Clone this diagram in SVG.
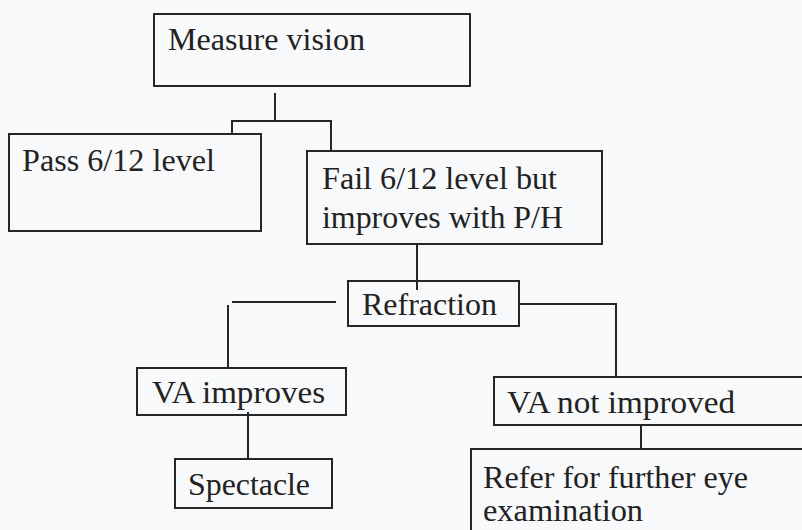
<svg xmlns="http://www.w3.org/2000/svg" width="802" height="530" viewBox="0 0 802 530">
<style>
.box{fill:none;stroke:#262626;stroke-width:2}
.ln{fill:none;stroke:#262626;stroke-width:2}
.t{font-family:"Liberation Serif","Times New Roman",serif;font-size:32px;fill:#222}
</style>
<rect x="0" y="0" width="802" height="530" fill="#f7f9fb"/>
<g id="connectors">
<polyline class="ln" points="275,93 275,121"/>
<polyline class="ln" points="232,134 232,121 331,121 331,151"/>
<line class="ln" x1="417" y1="244" x2="417" y2="290"/>
<line class="ln" x1="232" y1="302" x2="336" y2="302"/>
<line class="ln" x1="228" y1="305" x2="228" y2="368"/>
<polyline class="ln" points="519,304 616,304 616,377"/>
<line class="ln" x1="248" y1="412" x2="248" y2="459"/>
<line class="ln" x1="641" y1="425" x2="641" y2="449"/>
</g>
<g id="measure">
<rect class="box" x="154" y="14" width="316" height="72"/>
<text class="t" x="168" y="50" textLength="197" lengthAdjust="spacingAndGlyphs">Measure vision</text>
</g>
<g id="pass">
<rect class="box" x="9" y="134" width="252" height="97"/>
<text class="t" x="22" y="171" textLength="193" lengthAdjust="spacingAndGlyphs">Pass 6/12 level</text>
</g>
<g id="fail">
<rect class="box" x="307" y="151" width="295" height="93"/>
<text class="t" x="322" y="189" textLength="235" lengthAdjust="spacingAndGlyphs">Fail 6/12 level but</text>
<text class="t" x="322" y="228" textLength="241" lengthAdjust="spacingAndGlyphs">improves with P/H</text>
</g>
<g id="refraction">
<rect class="box" x="348" y="281" width="171" height="45"/>
<text class="t" x="362" y="315" textLength="135" lengthAdjust="spacingAndGlyphs">Refraction</text>
</g>
<g id="va-improves">
<rect class="box" x="137" y="368" width="209" height="47"/>
<text class="t" x="152" y="403" textLength="173" lengthAdjust="spacingAndGlyphs">VA improves</text>
</g>
<g id="spectacle">
<rect class="box" x="175" y="459" width="157" height="49"/>
<text class="t" x="188" y="495" textLength="122" lengthAdjust="spacingAndGlyphs">Spectacle</text>
</g>
<g id="va-not-improved">
<rect class="box" x="494" y="377" width="330" height="48"/>
<text class="t" x="507" y="413" textLength="228" lengthAdjust="spacingAndGlyphs">VA not improved</text>
</g>
<g id="refer">
<rect class="box" x="471" y="449" width="350" height="110"/>
<text class="t" x="483" y="488" textLength="265" lengthAdjust="spacingAndGlyphs">Refer for further eye</text>
<text class="t" x="483" y="521" textLength="160" lengthAdjust="spacingAndGlyphs">examination</text>
</g>
</svg>
